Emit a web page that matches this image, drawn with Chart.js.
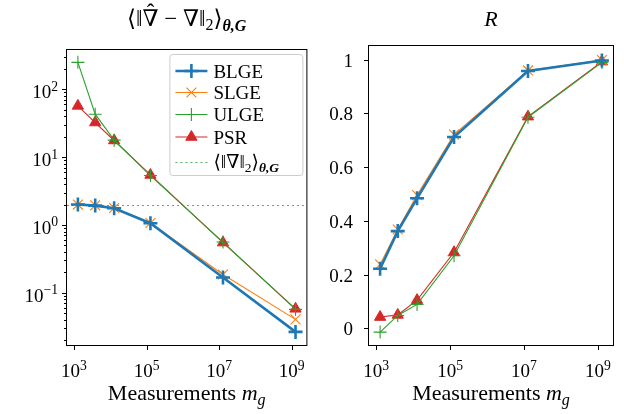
<!DOCTYPE html>
<html>
<head>
<meta charset="utf-8">
<script src="https://cdn.jsdelivr.net/npm/chart.js@4.4.0/dist/chart.umd.min.js"></script>
<style>
  html, body { margin: 0; padding: 0; background: #fff; }
  #wrap { position: relative; width: 624px; height: 414px; }
  canvas { position: absolute; top: 0; }
  #gradChart { left: 0; }
  #rChart { left: 316px; }
</style>
</head>
<body>
<div id="wrap">
  <canvas id="gradChart" width="316" height="414"></canvas>
  <canvas id="rChart" width="308" height="414"></canvas>
</div>
<script>
// measurement counts m_g shared by both panels
const measurements = [1280, 3840, 12800, 128000, 12800000, 1280000000];
const methods = ["BLGE", "SLGE", "ULGE", "PSR"];

// gradient error per method (log axis)
const gradBLGE = [2.0, 1.93, 1.76, 1.06, 0.168, 0.0265];
const gradSLGE = [2.0, 1.95, 1.78, 1.07, 0.186, 0.0405];
const gradULGE = [250, 43, 17.8, 5.35, 0.56, 0.057];
const gradPSR = [57, 32.4, 17.6, 5.46, 0.55, 0.058];
const gradNorm = 2.0; // mean gradient norm, dotted reference

// R per method
const rBLGE = [0.222, 0.362, 0.484, 0.712, 0.958, 0.997];
const rSLGE = [0.238, 0.368, 0.496, 0.721, 0.960, 0.999];
const rULGE = [-0.014, 0.048, 0.089, 0.270, 0.786, 0.990];
const rPSR = [0.042, 0.050, 0.105, 0.283, 0.788, 0.993];

// tick values
const measTicks = [1e3, 1e5, 1e7, 1e9];
const gradTicks = [0.1, 1, 10, 100];
const rTicks = [0, 0.2, 0.4, 0.6, 0.8, 1];

const serif = '"Liberation Serif", "DejaVu Serif", serif';
const styles = {
  BLGE: { color: "#1f77b4", width: 2.6, point: "cross", radius: 7, pw: 2.6, order: 0 },
  SLGE: { color: "#ff7f0e", width: 1.1, point: "crossRot", radius: 7, pw: 1.1, order: 2 },
  ULGE: { color: "#2ca02c", width: 1.1, point: "cross", radius: 6.5, pw: 1.1, order: 1 },
  PSR: { color: "#d62728", width: 1.1, point: "triangle", radius: 6.5, pw: 1, order: 3 },
};
const refColor = "rgba(44,160,44,0.8)";

const fontOf = (p) => `${p.style || "normal"} ${p.weight || "normal"} ${p.size}px ${serif}`;

// draws a row of text pieces (sub/superscripts via dy), hat over a piece if asked
const drawRich = (ctx, parts, x, y, align) => {
  let total = 0;
  parts.forEach((p) => {
    ctx.font = fontOf(p);
    p.w = ctx.measureText(p.t).width;
    total += p.w;
  });
  let cx = align === "center" ? x - total / 2 : align === "right" ? x - total : x;
  ctx.textAlign = "left";
  ctx.textBaseline = "alphabetic";
  ctx.fillStyle = "#000";
  parts.forEach((p) => {
    ctx.font = fontOf(p);
    ctx.fillText(p.t, cx, y + (p.dy || 0));
    if (p.hat) {
      ctx.textAlign = "center";
      ctx.fillText("\u02c6", cx + p.w / 2, y - p.size * 0.28);
      ctx.textAlign = "left";
    }
    cx += p.w;
  });
};

const powParts = (v, size) => {
  const e = Math.round(Math.log10(v));
  return [
    { t: "10", size: size },
    { t: String(e).replace("-", "\u2212"), size: size * 0.72, dy: -7.5 },
  ];
};

const xLabelParts = [
  { t: "Measurements ", size: 22 },
  { t: "m", size: 22, style: "italic" },
  { t: "g", size: 16, style: "italic", dy: 5 },
];

const series = (values) => values.map((v, i) => ({ x: measurements[i], y: v }));

const lineSet = (name, values) => {
  const s = styles[name];
  return {
    label: name,
    data: series(values),
    order: s.order,
    borderColor: s.color,
    backgroundColor: s.color,
    borderWidth: s.width,
    pointStyle: s.point,
    pointRadius: s.radius,
    pointHoverRadius: s.radius,
    pointBorderWidth: s.pw,
    pointBorderColor: s.color,
    pointBackgroundColor: s.color,
    tension: 0,
    fill: false,
  };
};

const markerOf = (name) => {
  const s = styles[name];
  return { pointStyle: s.point, rotation: 0, radius: s.radius, borderWidth: s.pw };
};

// frame, ticks, tick labels, titles and legend
const deco = {
  id: "deco",
  beforeDatasetsDraw(chart, args, opts) {
    if (opts.refLine == null) return;
    const { ctx, chartArea: a, scales } = chart;
    const py = Math.round(scales.y.getPixelForValue(opts.refLine)) + 0.5;
    ctx.save();
    ctx.strokeStyle = refColor;
    ctx.lineWidth = 1;
    ctx.setLineDash([2, 3]);
    ctx.beginPath();
    ctx.moveTo(a.left, py);
    ctx.lineTo(a.right, py);
    ctx.stroke();
    ctx.restore();
  },
  afterDraw(chart, args, opts) {
    const { ctx, chartArea: a, scales } = chart;
    const x = scales.x;
    const y = scales.y;
    ctx.save();
    ctx.strokeStyle = "#000";
    ctx.lineWidth = 1;
    ctx.setLineDash([]);
    ctx.strokeRect(a.left - 0.5, a.top - 0.5, a.right - a.left + 1, a.bottom - a.top + 1);

    ctx.beginPath();
    x.ticks.forEach((t) => {
      const px = Math.round(x.getPixelForValue(t.value)) + 0.5;
      ctx.moveTo(px, a.bottom);
      ctx.lineTo(px, a.bottom + 5);
    });
    y.ticks.forEach((t) => {
      const py = Math.round(y.getPixelForValue(t.value)) + 0.5;
      ctx.moveTo(a.left, py);
      ctx.lineTo(a.left - (t.major ? 5 : 3), py);
    });
    ctx.stroke();

    x.ticks.forEach((t) => {
      drawRich(ctx, powParts(t.value, 19), x.getPixelForValue(t.value), a.bottom + 32, "center");
    });
    y.ticks.forEach((t) => {
      if (!t.major) return;
      const py = y.getPixelForValue(t.value);
      if (opts.logY) {
        drawRich(ctx, powParts(t.value, 19), a.left - 9, py + 9, "right");
      } else {
        drawRich(ctx, [{ t: String(t.value), size: 19 }], a.left - 16, py + 7, "right");
      }
    });

    const cx = (a.left + a.right) / 2;
    drawRich(ctx, xLabelParts, cx, 400, "center");
    drawRich(ctx, opts.title, cx, 26, "center");

    if (opts.legend) drawLegend(ctx, a);
    ctx.restore();
  },
};

const drawLegend = (ctx, a) => {
  const w = 133, h = 121;
  const left = a.right - 4 - w;
  const top = a.top + 4;
  ctx.save();
  ctx.beginPath();
  ctx.roundRect(left + 0.5, top + 0.5, w, h, 3);
  ctx.fillStyle = "rgba(255,255,255,0.8)";
  ctx.fill();
  ctx.strokeStyle = "#cccccc";
  ctx.lineWidth = 1;
  ctx.stroke();

  const rows = [17, 38.5, 60.5, 83, 108];
  const x0 = left + 6, x1 = left + 38, tx = left + 44;
  methods.forEach((name, i) => {
    const s = styles[name];
    const ry = top + rows[i];
    ctx.strokeStyle = s.color;
    ctx.fillStyle = s.color;
    ctx.lineWidth = s.width;
    ctx.beginPath();
    ctx.moveTo(x0, ry);
    ctx.lineTo(x1, ry);
    ctx.stroke();
    ctx.lineWidth = s.pw;
    Chart.helpers.drawPoint(ctx, markerOf(name), (x0 + x1) / 2, ry);
    drawRich(ctx, [{ t: name, size: 19 }], tx, ry + 6.5, "left");
  });
  const ry = top + rows[4];
  ctx.strokeStyle = refColor;
  ctx.lineWidth = 1;
  ctx.setLineDash([2, 3]);
  ctx.beginPath();
  ctx.moveTo(x0, ry + 0.5);
  ctx.lineTo(x1, ry + 0.5);
  ctx.stroke();
  ctx.setLineDash([]);
  drawRich(ctx, [
    { t: "\u27e8\u2016\u2207\u2016", size: 19 },
    { t: "2", size: 13.5, dy: 3.5 },
    { t: "\u27e9", size: 19 },
    { t: "\u03b8,G", size: 13.5, style: "italic", weight: "bold", dy: 4 },
  ], tx, ry + 6, "left");
  ctx.restore();
};

const logX = {
  type: "logarithmic",
  min: Math.pow(10, 2.807),
  max: Math.pow(10, 9.407),
  bounds: "data",
  grid: { display: false },
  border: { display: false },
  ticks: { display: false },
  afterBuildTicks: (s) => {
    s.ticks = measTicks.map((v) => ({ value: v, major: true }));
  },
  afterFit: (s) => {
    s.height = 69;
  },
};

const commonOpts = {
  responsive: false,
  animation: false,
  events: [],
};

const gradChart = new Chart(document.querySelector("#gradChart"), {
  type: "line",
  data: {
    datasets: [
      lineSet("BLGE", gradBLGE),
      lineSet("SLGE", gradSLGE),
      lineSet("ULGE", gradULGE),
      lineSet("PSR", gradPSR),
    ],
  },
  options: {
    ...commonOpts,
    layout: { padding: { left: 0, right: 7, top: 50, bottom: 0 } },
    plugins: {
      legend: { display: false },
      tooltip: { enabled: false },
      deco: {
        logY: true,
        refLine: gradNorm,
        legend: true,
        title: [
          { t: "\u27e8\u2016", size: 23 },
          { t: "\u2207", size: 23, hat: true },
          { t: " \u2212 \u2207\u2016", size: 23 },
          { t: "2", size: 16, dy: 4 },
          { t: "\u27e9", size: 23 },
          { t: "\u03b8,G", size: 16, style: "italic", weight: "bold", dy: 5 },
        ],
      },
    },
    scales: {
      x: logX,
      y: {
        type: "logarithmic",
        min: Math.pow(10, -1.77),
        max: Math.pow(10, 2.58),
        bounds: "data",
        grid: { display: false },
        border: { display: false },
        ticks: { display: false },
        afterBuildTicks: (s) => {
          const ticks = [];
          gradTicks.concat([0.01]).forEach((base) => {
            for (let m = 1; m < 10; m++) {
              const v = base * m;
              if (v >= s.min && v <= s.max) ticks.push({ value: v, major: m === 1 });
            }
          });
          s.ticks = ticks.sort((p, q) => p.value - q.value);
        },
        afterFit: (s) => {
          s.width = 67;
        },
      },
    },
  },
  plugins: [deco],
});

const rChart = new Chart(document.querySelector("#rChart"), {
  type: "line",
  data: {
    datasets: [
      lineSet("BLGE", rBLGE),
      lineSet("SLGE", rSLGE),
      lineSet("ULGE", rULGE),
      lineSet("PSR", rPSR),
    ],
  },
  options: {
    ...commonOpts,
    layout: { padding: { left: 0, right: 11, top: 46, bottom: 0 } },
    plugins: {
      legend: { display: false },
      tooltip: { enabled: false },
      deco: {
        logY: false,
        title: [{ t: "R", size: 22, style: "italic" }],
      },
    },
    scales: {
      x: logX,
      y: {
        type: "linear",
        min: -0.062,
        max: 1.051,
        bounds: "data",
        grid: { display: false },
        border: { display: false },
        ticks: { display: false },
        afterBuildTicks: (s) => {
          s.ticks = rTicks.map((v) => ({ value: v, major: true }));
        },
        afterFit: (s) => {
          s.width = 53;
        },
      },
    },
  },
  plugins: [deco],
});
</script>
</body>
</html>
